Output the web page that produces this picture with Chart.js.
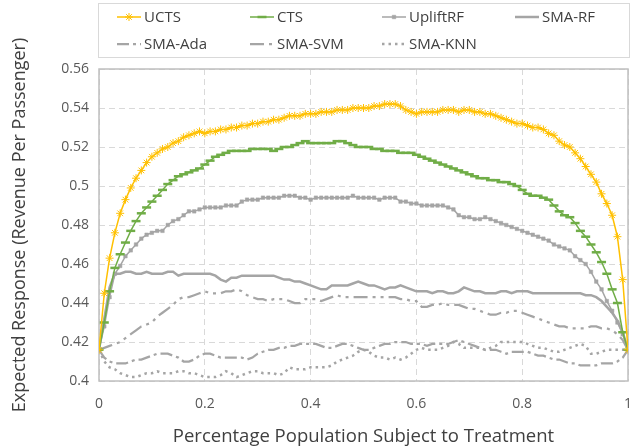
<!DOCTYPE html>
<html>
<head>
<meta charset="utf-8">
<script src="https://cdn.jsdelivr.net/npm/chart.js@4/dist/chart.umd.min.js"></script>
<style>
  html, body { margin: 0; padding: 0; background: #fff; }
  #wrap { width: 641px; height: 448px; }
</style>
</head>
<body>
<div id="wrap"><canvas id="uplift" width="641" height="448"></canvas></div>
<script>
// x positions (share of population treated)
const xs = [0,0.01,0.02,0.03,0.04,0.05,0.06,0.07,0.08,0.09,0.1,0.11,0.12,0.13,0.14,0.15,0.16,0.17,0.18,0.19,
  0.2,0.21,0.22,0.23,0.24,0.25,0.26,0.27,0.28,0.29,0.3,0.31,0.32,0.33,0.34,0.35,0.36,0.37,0.38,0.39,
  0.4,0.41,0.42,0.43,0.44,0.45,0.46,0.47,0.48,0.49,0.5,0.51,0.52,0.53,0.54,0.55,0.56,0.57,0.58,0.59,
  0.6,0.61,0.62,0.63,0.64,0.65,0.66,0.67,0.68,0.69,0.7,0.71,0.72,0.73,0.74,0.75,0.76,0.77,0.78,0.79,
  0.8,0.81,0.82,0.83,0.84,0.85,0.86,0.87,0.88,0.89,0.9,0.91,0.92,0.93,0.94,0.95,0.96,0.97,0.98,0.99,1];

const ucts = [.416,.445,.463,.476,.486,.493,.499,.504,.508,.512,.515,.517,.519,.520,.522,.523,.525,.526,.527,.528,
  .527,.528,.528,.529,.529,.530,.530,.531,.531,.532,.532,.533,.533,.534,.534,.535,.536,.536,.536,.537,
  .537,.537,.538,.538,.538,.539,.539,.539,.540,.540,.540,.540,.541,.541,.542,.542,.542,.541,.539,.538,
  .537,.538,.538,.538,.538,.539,.539,.539,.538,.539,.539,.538,.538,.537,.537,.536,.535,.534,.533,.532,
  .532,.531,.530,.530,.529,.527,.526,.523,.521,.520,.517,.514,.510,.506,.502,.496,.491,.485,.474,.452,.416];

const cts = [.416,.430,.446,.458,.465,.471,.477,.482,.486,.489,.492,.495,.498,.501,.503,.505,.506,.507,.508,.509,
  .511,.513,.515,.516,.517,.518,.518,.518,.518,.519,.519,.519,.519,.518,.519,.520,.520,.521,.522,.523,
  .522,.522,.522,.522,.522,.523,.523,.522,.521,.520,.520,.520,.519,.519,.518,.518,.518,.517,.517,.517,
  .516,.515,.514,.513,.512,.511,.510,.509,.508,.507,.506,.505,.504,.504,.503,.503,.502,.502,.501,.500,
  .498,.496,.495,.495,.494,.493,.490,.487,.485,.484,.481,.477,.474,.470,.466,.461,.455,.447,.440,.425,.416];

const upliftRF = [.416,.428,.443,.455,.459,.464,.467,.470,.473,.475,.476,.477,.477,.480,.482,.483,.485,.487,.487,.488,
  .489,.489,.489,.489,.490,.490,.490,.492,.493,.493,.493,.494,.494,.494,.494,.495,.495,.495,.494,.494,
  .493,.494,.494,.494,.494,.494,.494,.494,.495,.494,.494,.494,.494,.493,.494,.494,.494,.492,.492,.491,
  .491,.490,.490,.490,.490,.490,.489,.488,.485,.484,.484,.483,.483,.484,.483,.482,.481,.480,.479,.478,
  .477,.476,.475,.474,.473,.472,.470,.469,.468,.467,.464,.462,.460,.456,.451,.447,.441,.436,.430,.424,.416];

const smaRF = [.416,.432,.448,.455,.455,.456,.456,.455,.455,.456,.455,.455,.455,.456,.456,.454,.455,.455,.455,.455,
  .455,.455,.454,.452,.451,.453,.453,.454,.454,.454,.454,.454,.454,.454,.453,.452,.452,.451,.451,.450,
  .449,.448,.447,.447,.449,.449,.449,.449,.450,.451,.450,.449,.449,.448,.447,.448,.448,.449,.448,.447,
  .446,.446,.446,.445,.446,.446,.445,.445,.446,.448,.447,.446,.446,.445,.445,.445,.446,.446,.445,.446,
  .446,.446,.445,.445,.445,.445,.445,.445,.445,.445,.445,.445,.444,.444,.443,.441,.438,.435,.431,.425,.416];

const smaAda = [.416,.412,.410,.409,.409,.409,.410,.411,.411,.412,.413,.414,.414,.414,.413,.412,.410,.410,.411,.413,
  .414,.414,.413,.412,.412,.412,.412,.412,.411,.412,.414,.415,.416,.416,.417,.417,.418,.418,.419,.419,
  .419,.419,.418,.417,.417,.418,.419,.419,.418,.417,.416,.416,.417,.418,.419,.419,.420,.420,.420,.419,
  .419,.419,.418,.419,.419,.419,.419,.420,.421,.420,.419,.418,.417,.416,.416,.416,.415,.414,.415,.415,
  .415,.415,.414,.413,.413,.412,.411,.411,.410,.409,.409,.408,.408,.408,.408,.409,.409,.409,.410,.412,.416];

const smaSVM = [.416,.417,.418,.419,.420,.422,.424,.426,.428,.429,.430,.433,.435,.437,.439,.442,.443,.443,.444,.445,
  .446,.445,.445,.445,.446,.446,.447,.446,.444,.443,.442,.442,.441,.442,.442,.442,.441,.440,.440,.442,
  .442,.442,.441,.442,.443,.444,.443,.443,.443,.443,.443,.443,.443,.443,.443,.443,.443,.442,.442,.441,
  .441,.438,.438,.439,.439,.440,.439,.439,.439,.438,.437,.437,.436,.435,.434,.434,.435,.435,.436,.436,
  .435,.434,.433,.432,.431,.430,.429,.428,.428,.427,.427,.427,.427,.428,.428,.427,.427,.426,.424,.421,.416];

const smaKNN = [.416,.410,.407,.406,.404,.403,.402,.402,.403,.404,.404,.405,.404,.404,.404,.405,.405,.404,.404,.403,
  .402,.402,.402,.403,.405,.404,.402,.403,.404,.405,.405,.404,.404,.404,.403,.404,.407,.406,.406,.406,
  .407,.407,.407,.407,.408,.410,.411,.412,.413,.415,.416,.415,.413,.412,.412,.411,.412,.411,.412,.414,
  .416,.417,.416,.416,.416,.417,.418,.420,.419,.417,.417,.417,.417,.416,.417,.418,.420,.420,.420,.420,
  .420,.419,.418,.417,.417,.416,.415,.415,.416,.417,.418,.419,.418,.414,.414,.415,.416,.416,.416,.416,.416];

const xTicks = [0, 0.2, 0.4, 0.6, 0.8, 1];
const yTicks = [0.4, 0.42, 0.44, 0.46, 0.48, 0.5, 0.52, 0.54, 0.56];

const GRAY = '#a5a5a5';
const FONT = "'Open Sans', 'Noto Sans', sans-serif";

function pts(ys) {
  return ys.map((y, i) => ({ x: xs[i], y: y }));
}

const datasets = [
  { label: 'UCTS', data: pts(ucts), borderColor: '#ffc000', backgroundColor: '#ffc000',
    borderWidth: 1.5, pointStyle: 'star', pointRadius: 4, pointBorderWidth: 1 },
  { label: 'CTS', data: pts(cts), borderColor: '#70ad47', backgroundColor: '#70ad47',
    borderWidth: 1.5, pointStyle: 'line', pointRadius: 4.5, pointBorderWidth: 2.5 },
  { label: 'UpliftRF', data: pts(upliftRF), borderColor: GRAY, backgroundColor: GRAY,
    borderWidth: 1.5, pointStyle: 'rect', pointRadius: 2.5, pointBorderWidth: 0.5 },
  { label: 'SMA-RF', data: pts(smaRF), borderColor: GRAY, borderWidth: 2.5, pointRadius: 0 },
  { label: 'SMA-Ada', data: pts(smaAda), borderColor: GRAY, borderWidth: 2.25, pointRadius: 0,
    borderDash: [12, 4, 3, 4] },
  { label: 'SMA-SVM', data: pts(smaSVM), borderColor: GRAY, borderWidth: 2.25, pointRadius: 0,
    borderDash: [14, 5, 3, 5, 3, 5] },
  { label: 'SMA-KNN', data: pts(smaKNN), borderColor: GRAY, borderWidth: 2.5, pointRadius: 0,
    borderDash: [2.5, 4] }
];

// box around the plot area
const plotBox = {
  id: 'plotBox',
  beforeDatasetsDraw(chart) {
    const { ctx, chartArea: a } = chart;
    ctx.save();
    ctx.strokeStyle = '#bfbfbf';
    ctx.lineWidth = 1.5;
    ctx.strokeRect(a.left, a.top, a.right - a.left, a.bottom - a.top);
    ctx.restore();
  }
};

// legend drawn in a framed box above the plot, 4 columns x 2 rows
const boxLegend = {
  id: 'boxLegend',
  afterDraw(chart) {
    const ctx = chart.ctx;
    const colX = [117, 250, 382, 515];
    const rowY = [17, 44];
    ctx.save();
    ctx.strokeStyle = '#d9d9d9';
    ctx.lineWidth = 1;
    ctx.strokeRect(98.5, 3.5, 531, 54);
    ctx.font = '15px ' + FONT;
    ctx.textBaseline = 'middle';
    chart.data.datasets.forEach((ds, i) => {
      const x = colX[i % 4];
      const y = rowY[Math.floor(i / 4)];
      ctx.save();
      ctx.strokeStyle = ds.borderColor;
      ctx.lineWidth = ds.borderWidth;
      ctx.setLineDash(ds.borderDash || []);
      ctx.beginPath();
      ctx.moveTo(x, y);
      ctx.lineTo(x + 24, y);
      ctx.stroke();
      ctx.restore();
      if (ds.pointRadius > 0) {
        ctx.save();
        ctx.strokeStyle = ds.borderColor;
        ctx.fillStyle = ds.backgroundColor;
        ctx.lineWidth = ds.pointBorderWidth;
        Chart.helpers.drawPoint(ctx, { pointStyle: ds.pointStyle, radius: ds.pointRadius, borderWidth: ds.pointBorderWidth, rotation: 0 }, x + 12, y);
        ctx.restore();
      }
      ctx.fillStyle = '#404040';
      ctx.fillText(ds.label, x + 27, y + 1);
    });
    ctx.restore();
  }
};

new Chart(document.getElementById('uplift'), {
  type: 'line',
  data: { datasets: datasets },
  plugins: [plotBox, boxLegend],
  options: {
    responsive: false,
    animation: false,
    layout: { padding: { top: 69, right: 13, left: 0, bottom: 0 } },
    elements: { line: { tension: 0 } },
    plugins: { legend: { display: false }, tooltip: { enabled: false } },
    scales: {
      x: {
        type: 'linear', min: 0, max: 1,
        afterFit(s) { s.height = 67; },
        afterBuildTicks(s) { s.ticks = xTicks.map(v => ({ value: v })); },
        ticks: { padding: 3, color: '#595959', font: { family: FONT, size: 14 },
          callback: v => String(+v.toFixed(2)) },
        // invisible tick marks push the labels down without widening the side padding
        grid: { color: '#d9d9d9', lineWidth: 1, drawTicks: true, tickLength: 12, tickColor: 'rgba(0,0,0,0)' },
        border: { display: false, dash: [6, 4] },
        title: { display: true, text: 'Percentage Population Subject to Treatment',
          color: '#404040', font: { family: FONT, size: 18.5 }, padding: { top: 0, bottom: 0 } }
      },
      y: {
        min: 0.4, max: 0.56,
        afterFit(s) { s.width = 99; },
        afterBuildTicks(s) { s.ticks = yTicks.map(v => ({ value: v })); },
        ticks: { padding: 10, color: '#595959', font: { family: FONT, size: 14 },
          callback: v => String(+v.toFixed(2)) },
        grid: { color: '#d9d9d9', lineWidth: 1, drawTicks: false },
        border: { display: false, dash: [6, 4] },
        title: { display: true, text: 'Expected Response (Revenue Per Passenger)',
          color: '#404040', font: { family: FONT, size: 18 }, padding: { top: 9, bottom: 0 } }
      }
    }
  }
});
</script>
</body>
</html>
